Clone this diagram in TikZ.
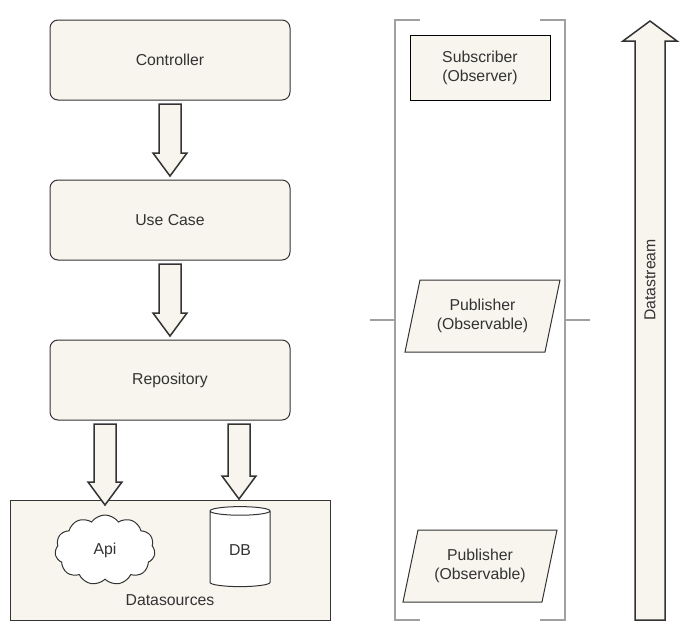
\documentclass[tikz,border=0pt]{standalone}
\usepackage{fontspec}
\setmainfont{Liberation Sans}
\usetikzlibrary{shapes.geometric,shapes.symbols,calc}
\definecolor{boxfill}{HTML}{F7F5EE}
\definecolor{boxline}{HTML}{333333}
\definecolor{bracket}{HTML}{A0A0A0}
\tikzset{
    layer/.style={draw=boxline, fill=boxfill, line width=1pt, rounded corners=8pt, minimum width=240pt, minimum height=80pt},
    blockarrow/.style={draw=boxline, fill=boxfill, line width=1.5pt, line join=miter},
    pubshape/.style={draw=boxline, fill=boxfill, line width=1pt}
}
\newcommand{\blkarrow}[2]{\draw[blockarrow] let \p1=(#1), \p2=(#2) in
    (\x1-11pt,\y1) -- (\x1+11pt,\y1) -- (\x1+11pt,\y2+23pt) -- (\x1+17pt,\y2+23pt) -- (\x1,\y2) -- (\x1-17pt,\y2+23pt) -- (\x1-11pt,\y2+23pt) -- cycle;}
\begin{document}
\begin{tikzpicture}[x=1pt, y=-1pt, every node/.style={font=\fontsize{15.8}{19}\selectfont, text=boxline}]
    \useasboundingbox (0,0) rectangle (681,641);
    % Layers
    \node[layer] (ctrl) at (170,60) {Controller};
    \node[layer] (usecase) at (170,220) {Use Case};
    \node[layer] (repo) at (170,380) {Repository};

    % Datasources
    \node[draw=boxline, fill=boxfill, line width=1pt, minimum width=320pt, minimum height=120pt] (data) at (170,560) {};
    \node (datalabel) at (170,600) {Datasources};
    \node[draw=boxline, fill=white, line width=1pt, cloud, cloud puffs=11, cloud puff arc=110, aspect=1.5, minimum width=100pt, minimum height=70pt] (api) at (105,550) {Api};
    \node[draw=boxline, fill=white, line width=1pt, cylinder, shape border rotate=90, aspect=0.3, minimum width=60pt, minimum height=80pt] (db) at (240,550) {DB};

    % Block arrows
    \coordinate (a1) at (170,104); \coordinate (a2) at (170,176);
    \coordinate (b1) at (170,264); \coordinate (b2) at (170,336);
    \coordinate (c1) at (105,424); \coordinate (c2) at (105,505);
    \coordinate (d1) at (239,424); \coordinate (d2) at (239,499);
    \blkarrow{a1}{a2}
    \blkarrow{b1}{b2}
    \blkarrow{c1}{c2}
    \blkarrow{d1}{d2}

    % Observer bracket
    \draw[bracket, line width=1.5pt] (420,20) -- (395,20) -- (395,620) -- (420,620);
    \draw[bracket, line width=1.5pt] (540,20) -- (565,20) -- (565,620) -- (540,620);
    \draw[bracket, line width=1.5pt] (370,320) -- (395,320);
    \draw[bracket, line width=1.5pt] (565,320) -- (590,320);
    \node[draw=black, fill=boxfill, line width=1pt, minimum width=140pt, minimum height=65pt, align=center] (sub) at (480,67.5) {Subscriber\\(Observer)};
    \draw[pubshape] (420,280) -- (560,280) -- (545,352) -- (405,352) -- cycle;
    \node[align=center] (pub1) at (482.5,316) {Publisher\\(Observable)};
    \draw[pubshape] (418,530) -- (557,530) -- (542,602) -- (403,602) -- cycle;
    \node[align=center] (pub2) at (480,566) {Publisher\\(Observable)};

    % Datastream
    \coordinate (s1) at (650,620); \coordinate (s2) at (650,21);
    \draw[blockarrow] let \p1=(s1), \p2=(s2) in
        (\x1-15pt,\y1) -- (\x1+15pt,\y1) -- (\x1+15pt,\y2-20pt) -- (\x1+27pt,\y2-20pt) -- (\x2,\y2) -- (\x1-27pt,\y2-20pt) -- (\x1-15pt,\y2-20pt) -- cycle;
    \node[rotate=90] (stream) at (650,280) {Datastream};
\end{tikzpicture}
\end{document}
